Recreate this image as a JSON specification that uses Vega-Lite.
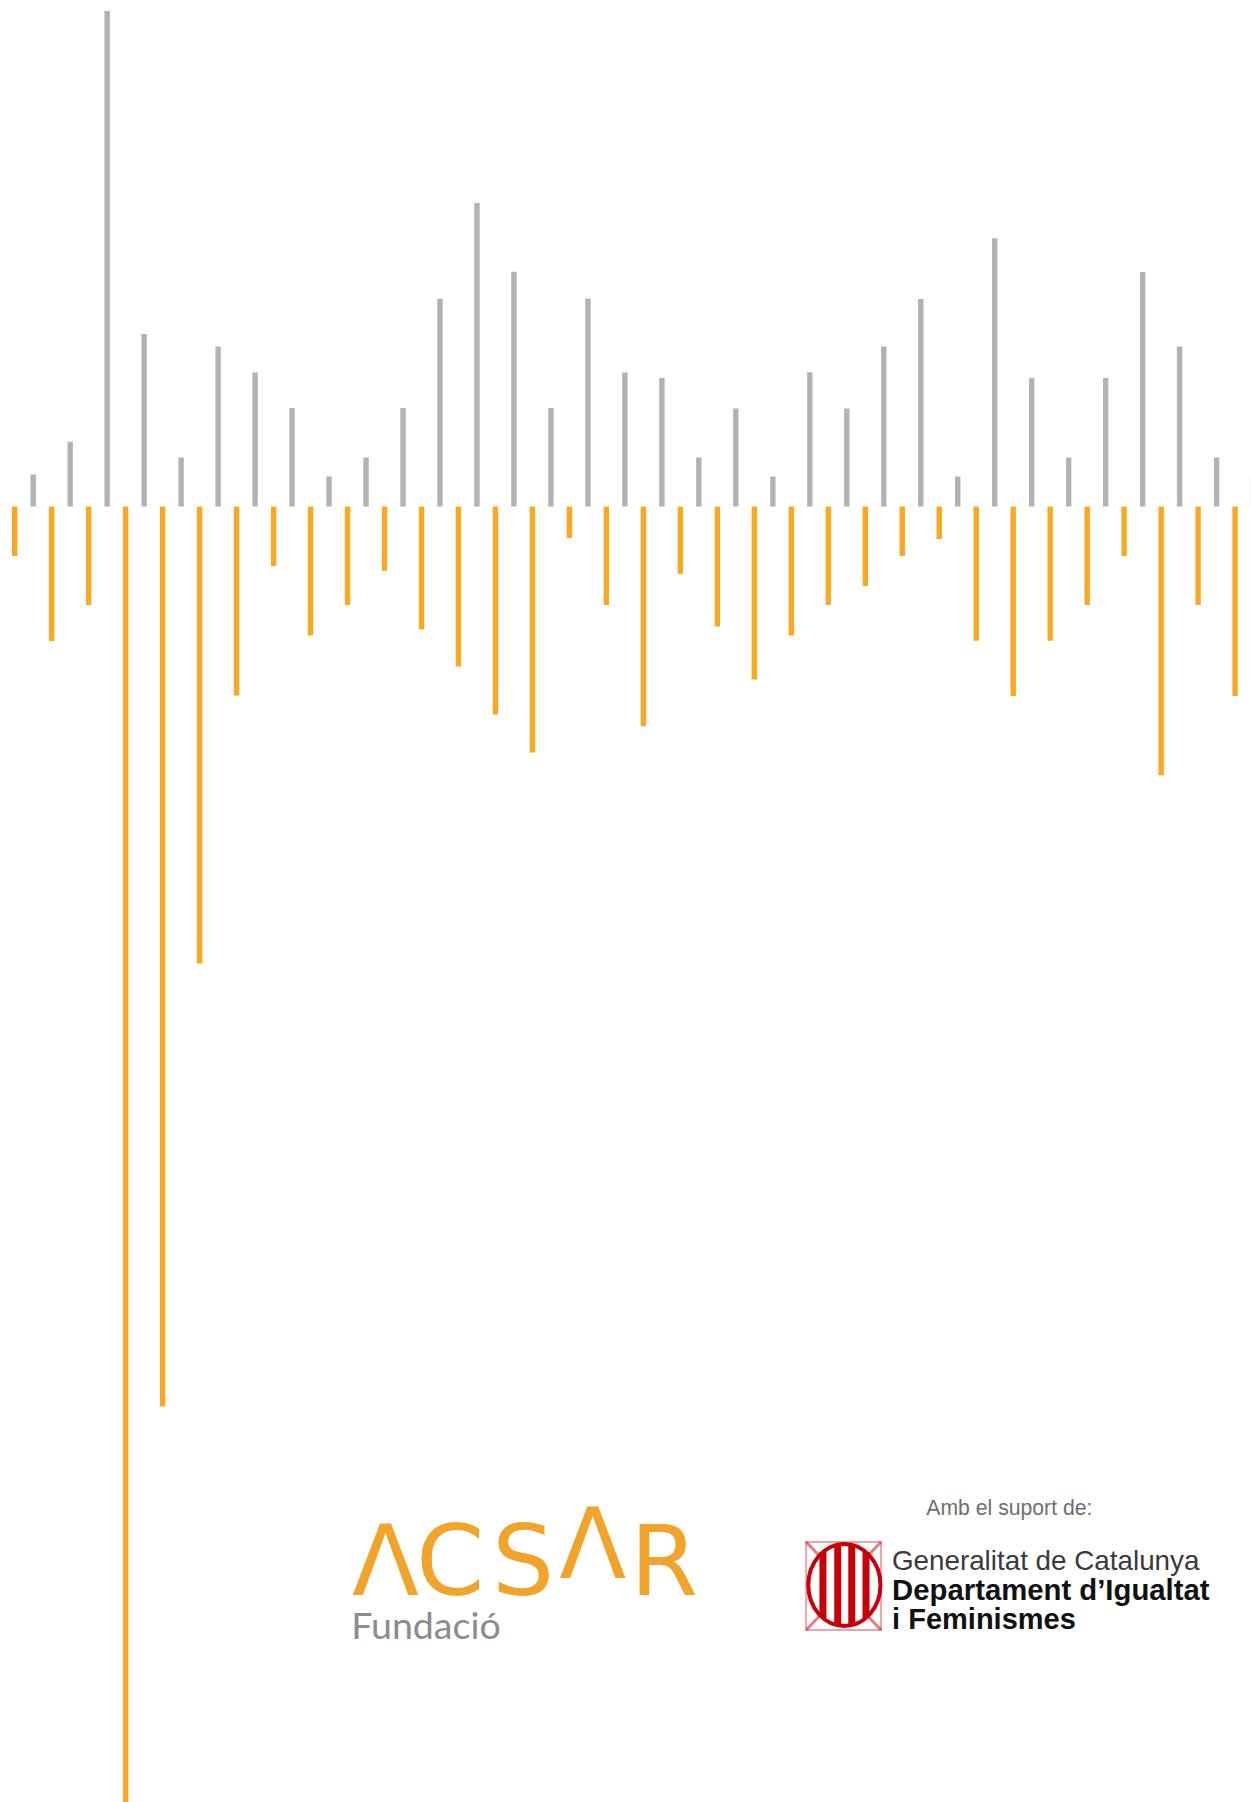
{"$schema":"https://vega.github.io/schema/vega-lite/v6.json","width":1251,"height":1802,"autosize":"none","padding":0,"background":"#ffffff","config":{"view":{"stroke":null}},
"datasets":{"bars":[
{"index":0,"series":"orange","value":-49.5},{"index":1,"series":"gray","value":32},{"index":2,"series":"orange","value":-134.5},{"index":3,"series":"gray","value":64.8},{"index":4,"series":"orange","value":-98.5},{"index":5,"series":"gray","value":495.4},{"index":6,"series":"orange","value":-1296},{"index":7,"series":"gray","value":172.4},{"index":8,"series":"orange","value":-900},{"index":9,"series":"gray","value":49},{"index":10,"series":"orange","value":-457},{"index":11,"series":"gray","value":160},{"index":12,"series":"orange","value":-189},{"index":13,"series":"gray","value":134},{"index":14,"series":"orange","value":-59.7},{"index":15,"series":"gray","value":98.5},{"index":16,"series":"orange","value":-129},{"index":17,"series":"gray","value":30},{"index":18,"series":"orange","value":-98.5},{"index":19,"series":"gray","value":49},{"index":20,"series":"orange","value":-64.3},{"index":21,"series":"gray","value":98.5},{"index":22,"series":"orange","value":-123},{"index":23,"series":"gray","value":207.7},{"index":24,"series":"orange","value":-160},{"index":25,"series":"gray","value":303.6},{"index":26,"series":"orange","value":-208},{"index":27,"series":"gray","value":234.7},{"index":28,"series":"orange","value":-246},{"index":29,"series":"gray","value":98.5},{"index":30,"series":"orange","value":-31.6},{"index":31,"series":"gray","value":207.7},{"index":32,"series":"orange","value":-98.5},{"index":33,"series":"gray","value":134},{"index":34,"series":"orange","value":-219.7},{"index":35,"series":"gray","value":128.6},{"index":36,"series":"orange","value":-67.4},{"index":37,"series":"gray","value":49},{"index":38,"series":"orange","value":-120},{"index":39,"series":"gray","value":98},{"index":40,"series":"orange","value":-173},{"index":41,"series":"gray","value":30},{"index":42,"series":"orange","value":-129},{"index":43,"series":"gray","value":134.3},{"index":44,"series":"orange","value":-98.4},{"index":45,"series":"gray","value":98},{"index":46,"series":"orange","value":-79.6},{"index":47,"series":"gray","value":160},{"index":48,"series":"orange","value":-49.4},{"index":49,"series":"gray","value":207.4},{"index":50,"series":"orange","value":-32.5},{"index":51,"series":"gray","value":30},{"index":52,"series":"orange","value":-134.3},{"index":53,"series":"gray","value":268.3},{"index":54,"series":"orange","value":-189.4},{"index":55,"series":"gray","value":128.6},{"index":56,"series":"orange","value":-134.3},{"index":57,"series":"gray","value":49},{"index":58,"series":"orange","value":-98.4},{"index":59,"series":"gray","value":128.6},{"index":60,"series":"orange","value":-49.4},{"index":61,"series":"gray","value":234.6},{"index":62,"series":"orange","value":-268.7},{"index":63,"series":"gray","value":160},{"index":64,"series":"orange","value":-98.4},{"index":65,"series":"gray","value":49},{"index":66,"series":"orange","value":-189.4},{"index":67,"series":"gray","value":30}
],"t":[{"a":1}]},
"data":{"name":"t"},
"layer":[
{"data":{"name":"bars"},"mark":{"type":"bar","width":5.4,"orient":"vertical"},"encoding":{
"x":{"field":"index","type":"quantitative","scale":{"domain":[-0.795,66.86],"nice":false,"zero":false,"padding":0},"axis":null},
"y":{"field":"value","type":"quantitative","stack":null,"scale":{"domain":[-1295.5,506.5],"nice":false,"zero":false},"axis":null},
"color":{"field":"series","type":"nominal","legend":null,"scale":{"domain":["gray","orange"],"range":["#b2b2b2","#faa824"]}}}},

{"mark":{"type":"text","align":"left","baseline":"alphabetic","font":"DejaVu Sans","fontSize":98,"color":"#f1a42c","text":"Λ"},"encoding":{"x":{"datum":18.24},"y":{"datum":-1088.5}}},
{"mark":{"type":"text","align":"left","baseline":"alphabetic","font":"DejaVu Sans","fontSize":98,"color":"#f1a42c","text":"C"},"encoding":{"x":{"datum":21.7},"y":{"datum":-1088.5}}},
{"mark":{"type":"text","align":"left","baseline":"alphabetic","font":"DejaVu Sans","fontSize":98,"color":"#f1a42c","text":"S"},"encoding":{"x":{"datum":25.81},"y":{"datum":-1088.5}}},
{"mark":{"type":"text","align":"left","baseline":"alphabetic","font":"DejaVu Sans","fontSize":98,"color":"#f1a42c","text":"Λ"},"encoding":{"x":{"datum":29.45},"y":{"datum":-1071.5}}},
{"mark":{"type":"text","align":"left","baseline":"alphabetic","font":"DejaVu Sans","fontSize":98,"color":"#f1a42c","text":"R"},"encoding":{"x":{"datum":33.28},"y":{"datum":-1088.5}}},
{"mark":{"type":"text","align":"left","baseline":"alphabetic","font":"Lato","fontSize":37.5,"color":"#8c8c8c","text":"Fundació"},"encoding":{"x":{"datum":18.2},"y":{"datum":-1132.5}}},
{"mark":{"type":"text","align":"left","baseline":"alphabetic","font":"Liberation Sans","fontSize":21.2,"color":"#6e6e6e","text":"Amb el suport de:"},"encoding":{"x":{"datum":49.3},"y":{"datum":-1008.5}}},
{"mark":{"type":"text","align":"left","baseline":"alphabetic","font":"Liberation Sans","fontSize":27.8,"color":"#3a3a3a","text":"Generalitat de Catalunya"},"encoding":{"x":{"datum":47.44},"y":{"datum":-1063.5}}},
{"mark":{"type":"text","align":"left","baseline":"alphabetic","font":"Liberation Sans","fontWeight":"bold","fontSize":29.3,"color":"#111111","text":"Departament d’Igualtat"},"encoding":{"x":{"datum":47.45},"y":{"datum":-1093.5}}},
{"mark":{"type":"text","align":"left","baseline":"alphabetic","font":"Liberation Sans","fontWeight":"bold","fontSize":29,"color":"#111111","text":"i Feminismes"},"encoding":{"x":{"datum":47.45},"y":{"datum":-1122.5}}},

{"mark":{"type":"rect","fillOpacity":0,"stroke":"#c8000a","strokeOpacity":0.35,"strokeWidth":2},"encoding":{"x":{"datum":42.8},"x2":{"datum":46.85},"y":{"datum":-1035.5},"y2":{"datum":-1123.5}}},
{"mark":{"type":"point","filled":false,"stroke":"#c8000a","opacity":1,"strokeWidth":4,"size":6724,"shape":"M-0.88,0A0.88,1 0 1,0 0.88,0A0.88,1 0 1,0 -0.88,0Z"},"encoding":{"x":{"datum":44.87},"y":{"datum":-1078.5}}},
{"mark":{"type":"rule","stroke":"#c8000a","strokeWidth":7},"encoding":{"x":{"datum":43.71},"y":{"datum":-1045.5},"y2":{"datum":-1111.5}}},
{"mark":{"type":"rule","stroke":"#c8000a","strokeWidth":7},"encoding":{"x":{"datum":44.51},"y":{"datum":-1038.5},"y2":{"datum":-1118.5}}},
{"mark":{"type":"rule","stroke":"#c8000a","strokeWidth":7},"encoding":{"x":{"datum":45.27},"y":{"datum":-1038.5},"y2":{"datum":-1118.5}}},
{"mark":{"type":"rule","stroke":"#c8000a","strokeWidth":7},"encoding":{"x":{"datum":46.04},"y":{"datum":-1045.5},"y2":{"datum":-1111.5}}},
{"mark":{"type":"rule","stroke":"#c8000a","strokeWidth":3,"strokeOpacity":0.5},"encoding":{"x":{"datum":42.8},"x2":{"datum":43.5},"y":{"datum":-1035.5},"y2":{"datum":-1049}}},
{"mark":{"type":"rule","stroke":"#c8000a","strokeWidth":3,"strokeOpacity":0.5},"encoding":{"x":{"datum":46.85},"x2":{"datum":46.15},"y":{"datum":-1035.5},"y2":{"datum":-1049}}},
{"mark":{"type":"rule","stroke":"#c8000a","strokeWidth":3,"strokeOpacity":0.5},"encoding":{"x":{"datum":42.8},"x2":{"datum":43.5},"y":{"datum":-1123.5},"y2":{"datum":-1110}}},
{"mark":{"type":"rule","stroke":"#c8000a","strokeWidth":3,"strokeOpacity":0.5},"encoding":{"x":{"datum":46.85},"x2":{"datum":46.15},"y":{"datum":-1123.5},"y2":{"datum":-1110}}}
]}
